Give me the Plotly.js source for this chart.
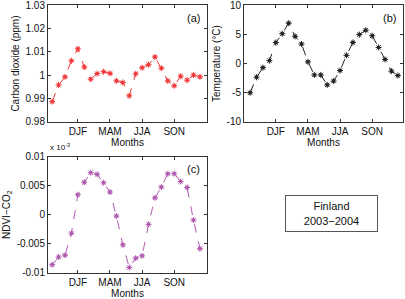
<!DOCTYPE html>
<html>
<head>
<meta charset="utf-8">
<script src="https://cdn.plot.ly/plotly-3.0.1.min.js"></script>
<style>html,body{margin:0;padding:0;background:#fff;}#chart{width:405px;height:299px;}</style>
</head>
<body>
<div id="chart"></div>
<script>
// Month index (2 years of monthly values)
const monthIndex = [1,2,3,4,5,6,7,8,9,10,11,12,13,14,15,16,17,18,19,20,21,22,23,24];
const seasonTickPos = [5,10,15,20];
const seasonTickText = ['DJF','MAM','JJA','SON'];

// (a) Carbon dioxide (ppm, normalised)
const co2 = [0.9887,0.9958,0.9993,1.0062,1.0113,1.0035,0.9983,1.0007,1.0015,1.0008,0.9976,0.9969,
             0.9912,1.0006,1.0032,1.0045,1.0078,1.0030,0.9976,0.9955,0.9996,0.9979,1.0001,0.9993];
// (b) Temperature (°C)
const temperature = [-5.0,-2.35,-0.7,0.5,3.6,5.1,6.9,4.65,3.35,0.3,-1.95,-1.95,
                     -3.65,-3.0,-1.2,1.4,3.6,4.95,5.7,4.75,2.75,0.7,-1.3,-2.05];
// (c) NDVI-CO2
const ndviCo2 = [-0.00862,-0.0073,-0.0070,-0.0032,0.00345,0.0056,0.00724,0.00695,0.0055,0.0039,-0.00024,-0.0052,
                 -0.0091,-0.0075,-0.0071,-0.00167,0.0029,0.00476,0.00707,0.00707,0.0057,0.0047,-0.00093,-0.00586];

const yTicksA = [0.98,0.99,1,1.01,1.02,1.03];
const yTickTextA = ['0.98','0.99','1','1.01','1.02','1.03'];
const yTicksB = [-10,-5,0,5,10];
const yTickTextB = ['-10','-5','0','5','10'];
const yTicksC = [-0.01,-0.005,0,0.005,0.01];
const yTickTextC = ['-0.01','-0.005','0','0.005','0.01'];

const FONT = 'Liberation Sans, Arial, sans-serif';

function series(y, color, xa, ya){
  return [
    {x: monthIndex, y: y, xaxis: xa, yaxis: ya, type: 'scatter', mode: 'lines+markers',
     line: {color: color, width: 1, dash: 'dash'},
     marker: {symbol: 'asterisk-open', size: 5, color: color, line: {color: color, width: 1}},
     hoverinfo: 'none'},
    {x: monthIndex, y: y, xaxis: xa, yaxis: ya, type: 'scatter', mode: 'markers',
     marker: {symbol: 'square', size: 3, color: color, line: {width: 0}},
     hoverinfo: 'none'}
  ];
}

const data = [].concat(
  series(co2, '#f03838', 'x', 'y'),
  series(temperature, '#222222', 'x2', 'y2'),
  series(ndviCo2, '#b05ab0', 'x3', 'y3')
);

const axCommon = {
  showline: true, linecolor: '#333', linewidth: 1, mirror: 'ticks',
  ticks: 'inside', ticklen: 3, tickwidth: 1, tickcolor: '#333',
  showgrid: false, zeroline: false, ticklabeloverflow: 'allow',
  tickfont: {family: FONT, size: 10, color: '#111'}
};
function xAxis(domain, range, anchor){
  return Object.assign({}, axCommon, {
    domain: domain, range: range, anchor: anchor,
    tickvals: seasonTickPos, ticktext: seasonTickText,
    title: {text: 'Months', font: {family: FONT, size: 10, color: '#111'}, standoff: 2}
  });
}
function yAxis(domain, range, anchor, tv, tt, title, standoff){
  return Object.assign({}, axCommon, {
    domain: domain, range: range, anchor: anchor,
    tickvals: tv, ticktext: tt,
    title: {text: title, font: {family: FONT, size: 10, color: '#111'}, standoff: standoff}
  });
}

const layout = {
  width: 405, height: 299,
  margin: {l: 0, r: 0, t: 0, b: 0},
  paper_bgcolor: '#fff', plot_bgcolor: '#fff',
  showlegend: false,
  xaxis: xAxis([0.1185, 0.5111], [0.35, 25.1], 'y'),
  yaxis: yAxis([0.592, 0.983], [0.98, 1.03], 'x', yTicksA, yTickTextA, 'Carbon dioxide (ppm)', 4),
  xaxis2: xAxis([0.6025, 0.9951], [0.05, 24.8], 'y2'),
  yaxis2: yAxis([0.592, 0.983], [-10, 10], 'x2', yTicksB, yTickTextB, 'Temperature (°C)', 4),
  xaxis3: xAxis([0.1185, 0.5111], [0.35, 25.1], 'y3'),
  yaxis3: yAxis([0.088, 0.476], [-0.01, 0.01], 'x3', yTicksC, yTickTextC, 'NDVI−CO<sub>2</sub>', 4),
  annotations: [
    {text: '(a)', xref: 'x domain', yref: 'y domain', x: 0.97, y: 0.96, xanchor: 'right', yanchor: 'top',
     showarrow: false, font: {family: FONT, size: 11, color: '#111'}},
    {text: '(b)', xref: 'x2 domain', yref: 'y2 domain', x: 0.97, y: 0.96, xanchor: 'right', yanchor: 'top',
     showarrow: false, font: {family: FONT, size: 11, color: '#111'}},
    {text: '(c)', xref: 'x3 domain', yref: 'y3 domain', x: 0.97, y: 0.96, xanchor: 'right', yanchor: 'top',
     showarrow: false, font: {family: FONT, size: 11, color: '#111'}},
    {text: 'x 10<sup>-3</sup>', xref: 'x3 domain', yref: 'y3 domain', x: 0.0, y: 1.0, xanchor: 'left', yanchor: 'bottom',
     yshift: 3, showarrow: false, font: {family: FONT, size: 8, color: '#111'}},
    {text: 'Finland<br>2003−2004', xref: 'paper', yref: 'paper', x: 0.8185, y: 0.286, xanchor: 'center', yanchor: 'middle',
     showarrow: false, align: 'center', font: {family: FONT, size: 11, color: '#111'},
     bordercolor: '#555', borderwidth: 1, borderpad: 2, bgcolor: '#fff', width: 87, height: 31}
  ]
};

Plotly.newPlot('chart', data, layout, {staticPlot: true, displayModeBar: false});
</script>
</body>
</html>
